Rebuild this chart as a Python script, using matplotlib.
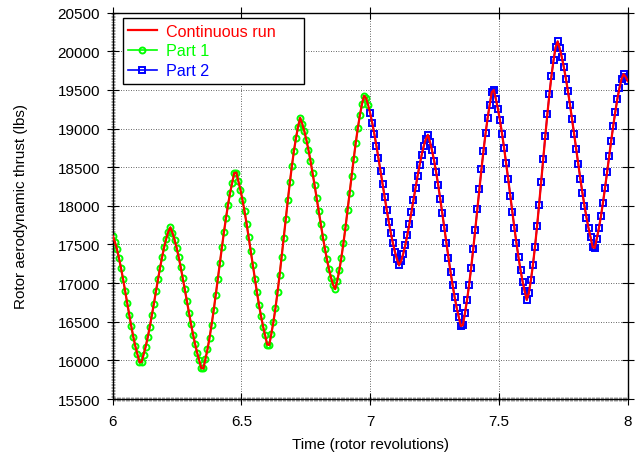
import numpy as np
import matplotlib
matplotlib.use("Agg")
import matplotlib.pyplot as plt
from matplotlib.ticker import MultipleLocator, FixedLocator

plt.rcParams['font.family'] = ['Liberation Sans', 'DejaVu Sans']
plt.rcParams['font.size'] = 11

# thrust samples, every 0.008 rev
part1_thrust = [
    17610, 17537, 17444, 17329, 17199, 17055, 16902, 16746, 16590, 16442,
    16304, 16181, 16077, 15975, 15978, 16076, 16179, 16299, 16435, 16582,
    16736, 16894, 17051, 17201, 17341, 17469, 17577, 17667, 17722, 17651,
    17563, 17460, 17339, 17207, 17066, 16918, 16767, 16618, 16472, 16335,
    16210, 16097, 16000, 15900, 15895, 16016, 16142, 16292, 16462, 16646,
    16843, 17048, 17256, 17462, 17660, 17846, 18017, 18170, 18300, 18425,
    18430, 18320, 18208, 18075, 17928, 17767, 17595, 17416, 17236, 17057,
    16884, 16721, 16572, 16438, 16323, 16205, 16200, 16343, 16495, 16676,
    16879, 17101, 17338, 17583, 17830, 18072, 18304, 18520, 18716, 18884,
    19027, 19140, 19063, 18968, 18856, 18727, 18585, 18430, 18267, 18099,
    17930, 17762, 17600, 17447, 17306, 17179, 17069, 16976, 16922, 17030,
    17165, 17330, 17517, 17722, 17940, 18166, 18392, 18612, 18819, 19008,
    19175, 19315, 19425, 19394, 19305,
]
part2_thrust = [
    19196, 19071, 18931, 18780, 18619, 18451, 18282, 18114, 17950, 17794,
    17649, 17519, 17405, 17308, 17229, 17284, 17376, 17488, 17619, 17762,
    17916, 18075, 18234, 18388, 18531, 18662, 18774, 18866, 18919, 18829,
    18718, 18587, 18437, 18271, 18092, 17904, 17711, 17518, 17328, 17145,
    16974, 16817, 16677, 16559, 16445, 16455, 16611, 16780, 16976, 17196,
    17437, 17692, 17954, 18216, 18471, 18715, 18938, 19137, 19309, 19470,
    19500, 19381, 19255, 19106, 18935, 18749, 18551, 18344, 18132, 17920,
    17714, 17517, 17332, 17165, 17019, 16895, 16782, 16869, 17036, 17237,
    17472, 17734, 18016, 18311, 18609, 18904, 19186, 19448, 19683, 19884,
    20051, 20129, 20037, 19925, 19795, 19646, 19483, 19307, 19121, 18929,
    18734, 18541, 18352, 18172, 18003, 17848, 17710, 17592, 17465, 17455,
    17577, 17709, 17864, 18040, 18232, 18433, 18639, 18843, 19039, 19221,
    19386, 19525, 19641, 19705, 19670, 19615,
]
continuous_thrust = part1_thrust + part2_thrust

t_all = np.linspace(6.0, 8.0, len(continuous_thrust))
t_part1 = t_all[:len(part1_thrust)]
t_part2 = t_all[len(part1_thrust):]

fig = plt.figure(figsize=(6.39, 4.6), dpi=100)
ax = fig.add_axes([0.1764, 0.1304, 0.8059, 0.8398])

p1, = ax.plot(t_part1, part1_thrust, color='#00ff00', lw=1.2, marker='o',
              markersize=4.3, markerfacecolor='none', markeredgewidth=1.4,
              label='Part 1', zorder=2)
p2, = ax.plot(t_part2, part2_thrust, color='#0000ff', lw=1.2, marker='s',
              markersize=4.0, markerfacecolor='none', markeredgewidth=1.4,
              label='Part 2', zorder=2)
cr, = ax.plot(t_all, continuous_thrust, color='#ff0000', lw=1.6,
              label='Continuous run', zorder=3)

ax.set_xlim(6, 8)
ax.set_ylim(15500, 20500)
ax.xaxis.set_major_locator(FixedLocator([6, 6.5, 7, 7.5, 8]))
ax.set_xticklabels(['6', '6.5', '7', '7.5', '8'])
ax.yaxis.set_major_locator(MultipleLocator(500))
ax.xaxis.set_minor_locator(MultipleLocator(0.005))
ax.yaxis.set_minor_locator(MultipleLocator(20))

ax.tick_params(which='major', direction='inout', length=8, width=0.8,
               top=True, right=True, labelsize=11)
ax.tick_params(which='minor', direction='inout', length=3, width=0.4,
               top=False, right=False, color='#555555')
ax.tick_params(axis='y', which='major', pad=5)
ax.tick_params(axis='x', which='major', pad=7)

ax.grid(True, which='major', color='k', linestyle=(0, (1, 2)),
        linewidth=0.6, alpha=0.8)
for s in ax.spines.values():
    s.set_linewidth(1.0)

ax.set_xlabel('Time (rotor revolutions)')
ax.set_ylabel('Rotor aerodynamic thrust (lbs)')
ax.xaxis.set_label_coords(0.5, -0.098)
ax.yaxis.set_label_coords(-0.165, 0.5)

leg = ax.legend(handles=[cr, p1, p2], loc='upper left',
                bbox_to_anchor=(0.0194, 0.8283, 0.352, 0.158), mode='expand',
                borderaxespad=0, fancybox=False, framealpha=1,
                edgecolor='k', handlelength=1.75, handletextpad=0.6,
                labelspacing=0.3, borderpad=0.35, fontsize=11.6)
leg.get_frame().set_linewidth(1.0)
for txt, c in zip(leg.get_texts(), ['#ff0000', '#00ff00', '#0000ff']):
    txt.set_color(c)

fig.savefig('out.png', dpi=100)
